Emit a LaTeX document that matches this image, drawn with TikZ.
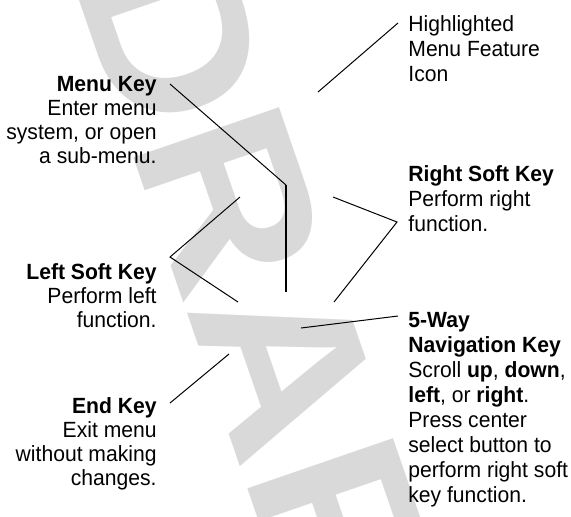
\documentclass[tikz,border=0pt]{standalone}
\usepackage{fontspec}
\setmainfont{Liberation Sans}[FakeStretch=0.96]
\newfontfamily\draftfont{Liberation Sans Bold}[FakeStretch=1.08]
\begin{document}
\begin{tikzpicture}[x=0.5pt,y=-0.5pt,
        keytext/.style={inner sep=0pt},
        keyleft/.style={keytext, align=right, anchor=north east, font=\fontsize{11}{12}\selectfont},
        keyright/.style={keytext, align=left, anchor=north west, font=\fontsize{11}{12.5}\selectfont},
        leader/.style={draw=black, line width=0.5pt}]
    \colorlet{draftgray}{black!15}
    \useasboundingbox (0,0) rectangle (571,516);

    % Watermark
    \node[rotate=-71, text=draftgray, inner sep=0pt,
          font=\draftfont\fontsize{112}{112}\selectfont] (draft) at (278,340) {DRAFT};

    % Left column
    \node[keyleft] (menukey) at (157,76) {\textbf{Menu Key}\\Enter menu\\system, or open\\a sub-menu.};
    \node[keyleft] (leftsoft) at (157,263) {\textbf{Left Soft Key}\\Perform left\\function.};
    \node[keyleft] (endkey) at (157,397) {\textbf{End Key}\\Exit menu\\without making\\changes.};

    % Right column
    \node[keyright] (icon) at (408,15) {Highlighted\\Menu Feature\\Icon};
    \node[keyright] (rightsoft) at (408,165) {\textbf{Right Soft Key}\\Perform right\\function.};
    \node[keyright] (navkey) at (408,312) {\textbf{5-Way}\\\textbf{Navigation Key}\\Scroll \textbf{up}, \textbf{down},\\\textbf{left}, or \textbf{right}.\\Press center\\select button to\\perform right soft\\key function.};

    % Leader ends
    \coordinate (icontip) at (398,23);
    \coordinate (iconpt) at (318,92);
    \coordinate (menutip) at (170,84);
    \coordinate (menubend) at (286,185);
    \coordinate (menupt) at (286,292);
    \coordinate (lefttop) at (240,197);
    \coordinate (lefttip) at (170,257);
    \coordinate (leftpt) at (238,302);
    \coordinate (endtip) at (170,403);
    \coordinate (endpt) at (229,354);
    \coordinate (righttop) at (333,197);
    \coordinate (righttip) at (397,222);
    \coordinate (rightpt) at (334,302);
    \coordinate (navpt) at (301,328);
    \coordinate (navtip) at (398,316);

    % Leaders
    \draw[leader] (icontip) -- (iconpt);
    \draw[leader] (menutip) -- (menubend);
    \draw[leader, line width=1pt] (menubend) -- (menupt);
    \draw[leader] (lefttop) -- (lefttip) -- (leftpt);
    \draw[leader] (endtip) -- (endpt);
    \draw[leader] (righttop) -- (righttip) -- (rightpt);
    \draw[leader] (navpt) -- (navtip);
\end{tikzpicture}
\end{document}
